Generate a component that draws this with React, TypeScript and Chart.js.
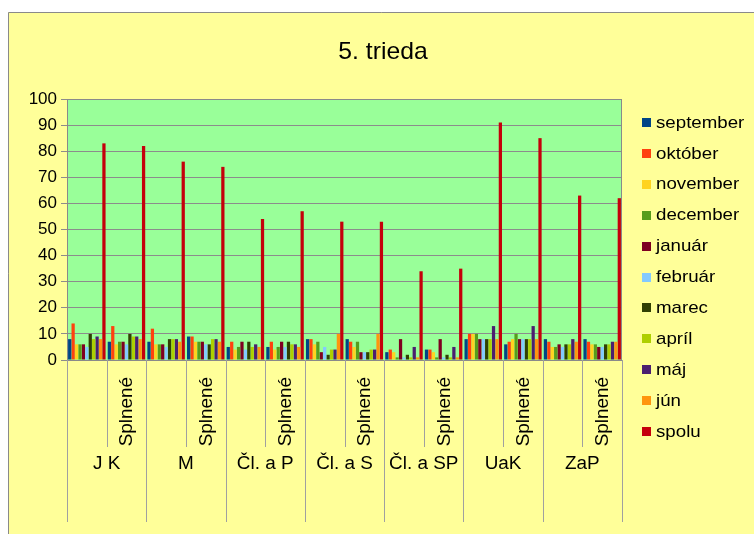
import React, { useEffect, useRef } from 'react';
import { Chart, registerables } from 'chart.js';
Chart.register(...registerables);

const groups = ['J K', 'M', 'Čl. a P', 'Čl. a S', 'Čl. a SP', 'UaK', 'ZaP'];
const subLabel = 'Splnené';
const categories = groups.flatMap((g) => [g, g + ' ' + subLabel]);

const seriesNames = ['september', 'október', 'november', 'december', 'január', 'február', 'marec', 'apríl', 'máj', 'jún', 'spolu'];
const seriesColors = ['#004586', '#ff420e', '#ffd320', '#579d1c', '#7e0021', '#83caff', '#314004', '#aecf00', '#4b1f6f', '#ff950e', '#c5000b'];

const september = [8, 7, 7, 9, 5, 5, 8, 8, 3, 4, 8, 6, 8, 8];
const oktober = [14, 13, 12, 9, 7, 7, 8, 7, 4, 4, 10, 7, 7, 7];
const november = [6, 6, 6, 7, 4, 4, 6, 5, 3, 3, 10, 8, 5, 6];
const december = [6, 7, 6, 7, 5, 5, 7, 7, 1, 1, 10, 10, 5, 6];
const januar = [6, 7, 6, 7, 7, 7, 3, 3, 8, 8, 8, 8, 6, 5];
const februar = [5, 6, 5, 6, 4, 5, 5, 3, 1, 1, 8, 8, 5, 5];
const marec = [10, 10, 8, 6, 7, 7, 2, 3, 2, 2, 8, 8, 6, 6];
const april = [8, 9, 8, 8, 5, 6, 4, 4, 1, 1, 8, 8, 6, 6];
const maj = [9, 9, 8, 8, 6, 6, 4, 4, 5, 5, 13, 13, 8, 7];
const jun = [8, 8, 7, 7, 5, 5, 10, 10, 1, 1, 8, 8, 7, 7];
const spolu = [83, 82, 76, 74, 54, 57, 53, 53, 34, 35, 91, 85, 63, 62];

const seriesValues = [september, oktober, november, december, januar, februar, marec, april, maj, jun, spolu];
const yTicks = [0, 10, 20, 30, 40, 50, 60, 70, 80, 90, 100];

const FONT = '"Liberation Sans", Arial, sans-serif';

function stretchText(ctx: any, text: string, x: number, y: number, sx: number) {
  ctx.save();
  ctx.translate(x, y);
  ctx.scale(sx, 1);
  ctx.fillText(text, 0, 0);
  ctx.restore();
}

const decorPlugin = {
  id: 'decor',
  beforeDraw(chart: any) {
    const { ctx, chartArea, width, height } = chart;
    ctx.save();
    ctx.fillStyle = '#ffffff';
    ctx.fillRect(0, 0, width, height);
    ctx.fillStyle = '#ffff99';
    ctx.fillRect(8, 12, width - 8, height - 12);
    ctx.strokeStyle = '#8a8a8a';
    ctx.lineWidth = 1;
    ctx.beginPath();
    ctx.moveTo(8.5, height);
    ctx.lineTo(8.5, 12.5);
    ctx.lineTo(width, 12.5);
    ctx.stroke();
    ctx.fillStyle = '#99ff99';
    ctx.fillRect(chartArea.left, chartArea.top, chartArea.right - chartArea.left, chartArea.bottom - chartArea.top);
    ctx.restore();
  },
  afterDraw(chart: any) {
    const { ctx, chartArea } = chart;
    const xs = chart.scales.x;
    const n = categories.length;
    const w = (xs.right - xs.left) / n;
    ctx.save();
    ctx.strokeStyle = '#8a8a8a';
    ctx.lineWidth = 1;
    ctx.strokeRect(chartArea.left + 0.5, chartArea.top + 0.5, chartArea.right - chartArea.left - 1, chartArea.bottom - chartArea.top);
    ctx.strokeStyle = '#a0a0a0';
    for (let i = 0; i <= n; i++) {
      const x = Math.round(xs.getPixelForValue(Math.min(i, n - 1)) + (i === n ? w / 2 : -w / 2)) + 0.5;
      const long = i % 2 === 0;
      ctx.beginPath();
      ctx.moveTo(x, chartArea.bottom);
      ctx.lineTo(x, long ? 522 : 447);
      ctx.stroke();
    }
    ctx.fillStyle = '#000000';
    ctx.font = '18px ' + FONT;
    for (let i = 0; i < n; i++) {
      if (i % 2 === 1) {
        const cx = xs.getPixelForValue(i);
        ctx.save();
        ctx.translate(cx + 1, 377);
        ctx.rotate(-Math.PI / 2);
        ctx.scale(1.05, 1);
        ctx.textAlign = 'right';
        ctx.textBaseline = 'middle';
        ctx.fillText(subLabel, 0, 0);
        ctx.restore();
      }
    }
    ctx.textAlign = 'center';
    ctx.textBaseline = 'middle';
    for (let g = 0; g < groups.length; g++) {
      const cx = (xs.getPixelForValue(g * 2) + xs.getPixelForValue(g * 2 + 1)) / 2;
      stretchText(ctx, groups[g], cx, 464, 1.05);
    }
    ctx.font = '24px ' + FONT;
    stretchText(ctx, '5. trieda', 383, 52, 1.03);
    ctx.font = '17px ' + FONT;
    ctx.textAlign = 'left';
    for (let i = 0; i < seriesNames.length; i++) {
      const y = 122 + i * 30.9;
      ctx.fillStyle = seriesColors[i];
      ctx.fillRect(642, Math.round(y - 4), 9, 9);
      ctx.fillStyle = '#000000';
      stretchText(ctx, seriesNames[i], 656, y + 1, 1.1);
    }
    ctx.restore();
  },
};

export default function App() {
  const ref = useRef<HTMLCanvasElement>(null);
  useEffect(() => {
    document.body.style.margin = '0';
    const chart = new Chart(ref.current as HTMLCanvasElement, {
      type: 'bar',
      data: {
        labels: categories,
        datasets: seriesNames.map((name, i) => ({
          label: name,
          data: seriesValues[i],
          backgroundColor: seriesColors[i],
          borderWidth: 0,
          categoryPercentage: 0.95,
          barPercentage: 0.95,
        })),
      },
      options: {
        responsive: false,
        animation: false,
        layout: { padding: { top: 99, right: 132, left: 0, bottom: 0 } },
        scales: {
          x: {
            ticks: { display: false },
            grid: { display: false },
            border: { display: false },
            afterFit: (s: any) => { s.height = 174; },
          },
          y: {
            min: 0,
            max: 100,
            afterBuildTicks: (s: any) => { s.ticks = yTicks.map((v) => ({ value: v })); },
            ticks: { color: '#000', font: { size: 17, family: FONT }, padding: 4 },
            grid: { color: '#8c8c8c', tickLength: 6, lineWidth: 1 },
            border: { display: true, color: '#8c8c8c' },
            afterFit: (s: any) => { s.width = 67; },
          },
        },
        plugins: { legend: { display: false }, title: { display: false }, tooltip: { enabled: false } },
      },
      plugins: [decorPlugin],
    });
    return () => chart.destroy();
  }, []);
  return <canvas ref={ref} width={754} height={534} style={{ display: 'block' }} />;
}
